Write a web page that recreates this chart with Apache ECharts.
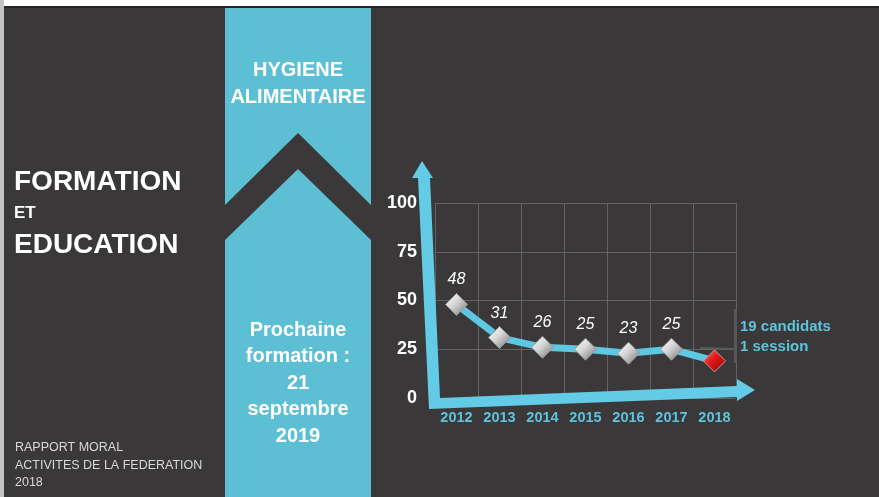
<!DOCTYPE html>
<html>
<head>
<meta charset="utf-8">
<script src="https://cdn.jsdelivr.net/npm/echarts@6/dist/echarts.min.js"></script>
<style>html,body{margin:0;padding:0;background:#fff}#c{width:879px;height:497px}</style>
</head>
<body>
<div id="c"></div>
<script>
const years = ['2012','2013','2014','2015','2016','2017','2018'];
const candidates = [48, 31, 26, 25, 23, 25, 19];
const yMin = 0, yMax = 100, yStep = 25;
const titleLines = ['FORMATION', 'ET', 'EDUCATION'];
const bannerTop = ['HYGIENE', 'ALIMENTAIRE'];
const bannerBottom = ['Prochaine', 'formation :', '21', 'septembre', '2019'];
const footerLines = ['RAPPORT MORAL', 'ACTIVITES DE LA FEDERATION', '2018'];
const calloutLines = ['19 candidats', '1 session'];

const BG = '#3a3839';
const CYAN = '#5dbfd4';
const ARROW = '#63cbe6';
const F = "'Liberation Sans', Arial, sans-serif";

const silver = {type:'linear', x:0, y:0, x2:1, y2:1, colorStops:[
  {offset:0, color:'#ffffff'}, {offset:0.45, color:'#d6d6d6'}, {offset:1, color:'#6e6e6e'}]};
const red = {type:'linear', x:0, y:0, x2:1, y2:1, colorStops:[
  {offset:0, color:'#ff6a6a'}, {offset:0.45, color:'#e01818'}, {offset:1, color:'#8e0000'}]};

const seriesData = candidates.map((v, i) => i === candidates.length - 1
  ? {value: v, itemStyle: {color: red, borderColor: '#c9a0a0', borderWidth: 1}, label: {show: false}}
  : {value: v});

const graphics = [];
// background
graphics.push({type:'rect', z:-20, shape:{x:0,y:0,width:4,height:497}, style:{fill:'#c4c4c4'}});
graphics.push({type:'rect', z:-20, shape:{x:4,y:6,width:875,height:491}, style:{fill:BG}});
graphics.push({type:'rect', z:-19, shape:{x:4,y:6,width:875,height:2}, style:{fill:'#262525'}});
// banner
graphics.push({type:'rect', z:-18, shape:{x:225,y:8,width:146,height:489}, style:{fill:CYAN}});
graphics.push({type:'polygon', z:-17, shape:{points:[[225,205],[298,133],[371,205],[371,240],[298,169],[225,240]]}, style:{fill:BG}});
// banner texts
bannerTop.forEach((t, i) => graphics.push({type:'text', z:5, x:298, y:70 + i*27,
  style:{text:t, fill:'#ffffff', font:'bold 20px ' + F, textAlign:'center', textVerticalAlign:'middle'}}));
bannerBottom.forEach((t, i) => graphics.push({type:'text', z:5, x:298, y:330 + i*26.6,
  style:{text:t, fill:'#ffffff', font:'bold 20px ' + F, textAlign:'center', textVerticalAlign:'middle'}}));
// left title
const tY = [182, 213, 245], tS = [28, 17, 28];
titleLines.forEach((t, i) => graphics.push({type:'text', z:5, x:14, y:tY[i],
  style:{text:t, fill:'#ffffff', font:'bold ' + tS[i] + 'px ' + F, textAlign:'left', textVerticalAlign:'middle'}}));
footerLines.forEach((t, i) => graphics.push({type:'text', z:5, x:15, y:448 + i*17.5,
  style:{text:t, fill:'#d9d9d9', font:'12.5px ' + F, textAlign:'left', textVerticalAlign:'middle'}}));
// callout
graphics.push({type:'rect', z:3, shape:{x:734,y:309,width:3,height:54}, style:{fill:'#565656'}});
graphics.push({type:'line', z:3, shape:{x1:700,y1:348,x2:734,y2:349}, style:{stroke:'#5a5a5a', lineWidth:2}});
calloutLines.forEach((t, i) => graphics.push({type:'text', z:5, x:740, y:327 + i*20,
  style:{text:t, fill:'#5fc3dc', font:'bold 15px ' + F, textAlign:'left', textVerticalAlign:'middle'}}));
// L-shaped arrows
graphics.push({type:'polygon', z:4, shape:{points:[
  [418,178],[429,409],[737,397],[737,401],[755,390],[737,379],[737,386],[440,398],[430,178],[433,178],[422,161],[412,178]
]}, style:{fill:ARROW}});

const option = {
  backgroundColor: '#ffffff',
  animation: false,
  graphic: {elements: graphics},
  grid: {left: 435, right: 143, top: 203, bottom: 99},
  xAxis: {
    type: 'category', data: years, boundaryGap: true,
    axisLine: {show: false}, axisTick: {show: false},
    splitLine: {show: true, interval: 0, lineStyle: {color: '#636363', width: 1}},
    axisLabel: {interval: 0, color: '#5fc3dc', fontWeight: 'bold', fontSize: 14.5, fontFamily: F, margin: 12}
  },
  yAxis: {
    type: 'value', min: yMin, max: yMax, interval: yStep,
    axisLine: {show: false}, axisTick: {show: false},
    splitLine: {show: true, lineStyle: {color: '#636363', width: 1}},
    axisLabel: {color: '#ffffff', fontWeight: 'bold', fontSize: 18, fontFamily: F, margin: 18}
  },
  series: [{
    type: 'line', data: seriesData, z: 6,
    lineStyle: {color: '#5ec7e2', width: 7},
    symbol: 'diamond', symbolSize: 22,
    itemStyle: {color: silver, borderColor: '#9a9a9a', borderWidth: 1},
    label: {show: true, position: 'top', distance: 5, color: '#ffffff',
      fontStyle: 'italic', fontSize: 16, fontFamily: F}
  }]
};
echarts.init(document.getElementById('c')).setOption(option);
</script>
</body>
</html>
